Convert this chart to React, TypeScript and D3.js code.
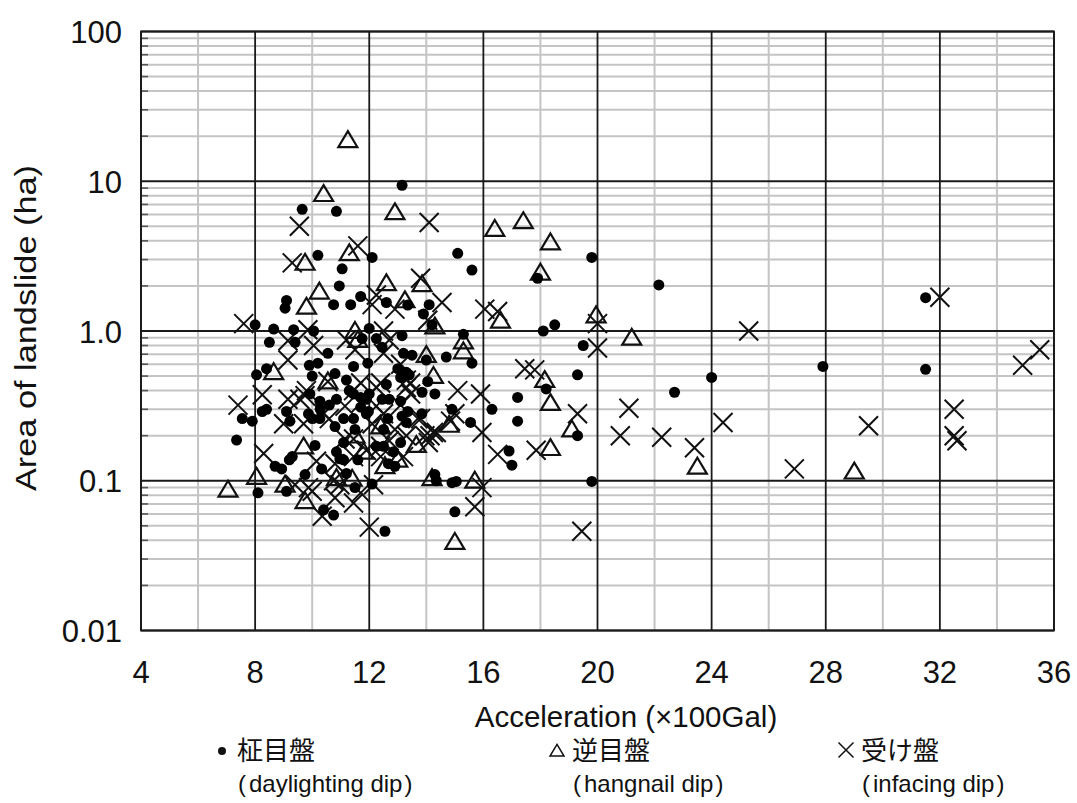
import React from "react";
import * as d3 from "d3";

// Landslide area versus seismic acceleration, grouped by slope structure.
const xTicks = [4, 8, 12, 16, 20, 24, 28, 32, 36];
const xMinor = [6, 10, 14, 18, 22, 26, 30, 34];
const yTicks = [0.01, 0.1, 1, 10, 100];
const yTickLabels = ["0.01", "0.1", "1.0", "10", "100"];

// 柾目盤 (daylighting dip): [acceleration ×100Gal, area ha]
const daylighting: [number, number][] = [
  [31.5, 1.67], [24.0, 0.49], [27.9, 0.58], [31.5, 0.555], [22.7, 0.39], [22.15, 2.03],
  [19.8, 3.1], [19.8, 0.099], [19.5, 0.8], [19.3, 0.51], [19.3, 0.2], [18.5, 1.1],
  [18.1, 1.0], [17.9, 2.25], [15.1, 3.3], [15.6, 2.55], [14.1, 1.5], [13.9, 1.3],
  [14.2, 1.1], [15.3, 0.95], [14.7, 0.67], [15.6, 0.61], [14.0, 0.64], [18.2, 0.41],
  [17.2, 0.36], [17.2, 0.25], [16.3, 0.3], [14.9, 0.3], [15.55, 0.245], [16.9, 0.158],
  [17.0, 0.127], [13.84, 0.28], [14.3, 0.11], [14.35, 0.1], [14.9, 0.097], [15.05, 0.099],
  [15.0, 0.062],
  [13.15, 9.4], [9.65, 6.5], [10.85, 6.3], [12.1, 3.1], [10.2, 3.2], [11.05, 2.6],
  [10.95, 2.0], [11.7, 1.7], [9.1, 1.6], [9.05, 1.42], [10.75, 1.5], [11.35, 1.5],
  [12.6, 1.55], [13.35, 1.49],
  [8.0, 1.1], [8.65, 1.03], [9.35, 1.02], [10.05, 1.0], [8.5, 0.84], [9.4, 0.84],
  [12.0, 1.04], [11.75, 0.89], [12.25, 0.89], [13.15, 0.93], [12.45, 0.78], [13.2, 0.71],
  [13.5, 0.69], [10.55, 0.71], [9.9, 0.59], [10.2, 0.61], [8.4, 0.56], [8.05, 0.51],
  [10.0, 0.5], [10.8, 0.52], [11.95, 0.61], [13.0, 0.56], [13.3, 0.53], [13.4, 0.51],
  [11.2, 0.47], [12.6, 0.44], [13.1, 0.49], [14.05, 0.46], [14.3, 0.38],
  [7.55, 0.26], [7.9, 0.25], [7.35, 0.187], [8.25, 0.29], [8.4, 0.3], [9.1, 0.29],
  [9.22, 0.25], [8.7, 0.125], [8.93, 0.12], [9.2, 0.138], [9.3, 0.145], [8.1, 0.083],
  [9.1, 0.085], [10.4, 0.064], [10.75, 0.059], [9.75, 0.11], [10.1, 0.172], [9.87, 0.28],
  [10.0, 0.26], [10.27, 0.26], [10.28, 0.3], [10.8, 0.23], [10.85, 0.156], [10.97, 0.14],
  [10.33, 0.12], [9.92, 0.38], [10.27, 0.34], [10.6, 0.32], [11.2, 0.112], [11.5, 0.09],
  [12.1, 0.095], [12.55, 0.046], [11.1, 0.138], [11.6, 0.138], [12.67, 0.13], [12.9, 0.125],
  [13.1, 0.18], [12.5, 0.17], [12.25, 0.17], [11.1, 0.26], [11.5, 0.22], [13.3, 0.245],
  [11.9, 0.28], [12.65, 0.26], [13.15, 0.27], [13.35, 0.29], [11.45, 0.38], [12.0, 0.38],
  [13.1, 0.34], [12.45, 0.35], [13.85, 0.39], [11.45, 0.26], [11.97, 0.29], [11.3, 0.4],
  [11.7, 0.36], [11.9, 0.35],
  [12.7, 0.35], [12.85, 0.156], [11.1, 0.18], [11.45, 0.58], [10.85, 0.35], [11.7, 0.31],
  [12.5, 0.22],
];

// 逆目盤 (hangnail dip)
const hangnail: [number, number][] = [
  [29.0, 0.115], [23.5, 0.124], [21.2, 0.9], [19.95, 1.27], [19.1, 0.22], [18.35, 3.9],
  [18.0, 2.45], [17.4, 5.4], [16.4, 4.8], [16.6, 1.17], [14.3, 1.07], [15.3, 0.85],
  [15.3, 0.73], [14.0, 0.69], [18.15, 0.47], [18.35, 0.33], [18.35, 0.165], [14.8, 0.236],
  [14.2, 0.104], [15.7, 0.1], [15.0, 0.039],
  [11.25, 18.8], [10.4, 8.2], [12.9, 6.2], [11.3, 3.3], [9.75, 2.85], [10.25, 1.83],
  [9.8, 1.45], [12.6, 2.08], [13.25, 1.6], [13.85, 2.05],
  [8.65, 0.53], [11.5, 1.0], [11.6, 0.87], [14.25, 0.5], [8.05, 0.106], [7.05, 0.087],
  [9.05, 0.094], [9.75, 0.073], [9.7, 0.169], [13.65, 0.173], [11.8, 0.156], [13.0, 0.138],
  [11.5, 0.2], [12.4, 0.23], [10.85, 0.104], [11.4, 0.103], [12.55, 0.125], [10.55, 0.46],
];

// 受け盤 (infacing dip)
const infacing: [number, number][] = [
  [32.0, 1.68], [25.3, 1.0], [35.5, 0.75], [34.9, 0.59], [32.5, 0.3], [32.5, 0.2],
  [32.6, 0.185], [29.5, 0.233], [24.4, 0.245], [26.9, 0.12], [23.4, 0.166], [22.25, 0.195],
  [20.8, 0.2], [21.1, 0.305], [20.0, 0.77], [20.0, 1.12], [19.45, 0.046], [19.3, 0.28],
  [14.1, 5.3], [16.05, 1.4], [16.5, 1.35], [14.55, 1.55], [17.45, 0.56], [17.8, 0.55],
  [17.85, 0.16], [15.9, 0.38], [15.1, 0.4], [15.95, 0.21], [16.5, 0.15], [15.0, 0.28],
  [14.25, 0.21], [13.95, 0.2], [15.95, 0.09], [15.7, 0.067],
  [9.55, 5.0], [11.6, 3.7], [9.3, 2.85], [12.25, 1.74], [12.1, 1.5], [12.9, 1.4],
  [13.8, 2.25], [14.05, 1.18], [7.6, 1.12], [9.85, 1.02], [9.15, 0.86], [10.05, 0.8],
  [9.15, 0.64], [10.55, 0.46],
  [11.2, 0.87], [12.5, 1.0], [12.7, 0.87], [11.5, 0.75], [12.5, 0.71], [13.1, 0.6],
  [13.3, 0.47], [11.7, 0.45], [13.45, 0.45],
  [7.4, 0.32], [8.25, 0.375], [9.15, 0.35], [9.0, 0.24], [8.3, 0.152], [9.4, 0.094],
  [9.87, 0.09], [10.35, 0.058], [10.8, 0.077], [10.0, 0.085], [9.7, 0.24], [10.6, 0.26],
  [9.8, 0.4], [10.8, 0.13], [10.15, 0.135], [10.75, 0.1], [9.57, 0.35],
  [14.85, 0.25], [14.13, 0.2], [14.07, 0.18], [14.35, 0.21], [11.45, 0.071], [11.7, 0.083],
  [12.15, 0.094], [12.0, 0.049], [12.4, 0.145], [13.2, 0.145], [12.7, 0.185], [11.15, 0.19],
  [12.9, 0.22], [13.3, 0.2], [12.25, 0.315], [12.5, 0.28], [13.7, 0.26], [11.7, 0.33],
  [11.15, 0.315], [13.45, 0.38], [13.8, 0.26], [13.1, 0.32], [10.97, 0.094], [9.75, 0.37],
  [11.45, 0.4], [12.25, 0.42], [13.3, 0.42], [12.1, 0.24], [12.4, 0.17], [11.45, 0.145],
  [10.4, 0.28], [11.45, 0.19], [12.4, 0.45], [11.9, 0.16],
];

const legendItems = [
  { symbol: "dot", ja: "柾目盤", en: "daylighting dip" },
  { symbol: "tri", ja: "逆目盤", en: "hangnail dip" },
  { symbol: "cross", ja: "受け盤", en: "infacing dip" },
];

const W = 1077;
const H = 803;
const left = 141;
const right = 1054;
const top = 31.5;
const bottom = 630.5;

const LATIN = "'Liberation Sans', Arial, sans-serif";
const CJK = "'Noto Sans CJK JP', 'Noto Sans CJK SC', sans-serif";

export default function App() {
  const x = d3.scaleLinear().domain([4, 36]).range([left, right]);
  const y = d3.scaleLog().domain([0.01, 100]).range([bottom, top]);

  const yMinor: number[] = [];
  [0.01, 0.1, 1, 10].forEach((base) => {
    for (let k = 2; k <= 9; k++) yMinor.push(base * k);
  });

  const triPath = (cx: number, cy: number, s = 9.5) =>
    `M${cx},${cy - s * 0.95} L${cx + s},${cy + s * 0.72} L${cx - s},${cy + s * 0.72} Z`;
  const crossPath = (cx: number, cy: number, s = 9.5) =>
    `M${cx - s},${cy - s} L${cx + s},${cy + s} M${cx - s},${cy + s} L${cx + s},${cy - s}`;

  const legendX = [222, 557, 846];

  return (
    <svg width={W} height={H} style={{ position: "absolute", left: 0, top: 0, background: "#fff" }}>
      <rect x={0} y={0} width={W} height={H} fill="#fff" />
      {/* minor grid */}
      {xMinor.map((v) => (
        <line key={`xm${v}`} x1={x(v)} x2={x(v)} y1={top} y2={bottom} stroke="#c4c4c4" strokeWidth={2} />
      ))}
      {yMinor.map((v) => (
        <line key={`ym${v}`} x1={left} x2={right} y1={y(v)} y2={y(v)} stroke="#c4c4c4" strokeWidth={2} />
      ))}
      {yMinor.map((v) => (
        <line key={`yt${v}`} x1={left} x2={left + 7} y1={y(v)} y2={y(v)} stroke="#555" strokeWidth={1.6} />
      ))}
      {/* major grid */}
      {xTicks.map((v) => (
        <line key={`xM${v}`} x1={x(v)} x2={x(v)} y1={top} y2={bottom} stroke="#1a1a1a" strokeWidth={1.8} />
      ))}
      {yTicks.map((v) => (
        <line key={`yM${v}`} x1={left} x2={right} y1={y(v)} y2={y(v)} stroke="#1a1a1a" strokeWidth={1.8} />
      ))}
      <rect x={left} y={top} width={right - left} height={bottom - top} fill="none" stroke="#1a1a1a" strokeWidth={1.8} />

      {/* tick labels */}
      {xTicks.map((v) => (
        <text key={`xl${v}`} x={x(v)} y={683} textAnchor="middle" fontFamily={LATIN} fontSize={31} fill="#111">
          {v}
        </text>
      ))}
      {yTicks.map((v, i) => (
        <text key={`yl${v}`} x={122} y={y(v) + 11.5} textAnchor="end" fontFamily={LATIN} fontSize={31} fill="#111">
          {yTickLabels[i]}
        </text>
      ))}

      {/* axis titles */}
      <text x={626} y={727} textAnchor="middle" fontFamily={LATIN} fontSize={29.5} fill="#111">
        Acceleration (×100Gal)
      </text>
      <text
        transform={`translate(36, ${(top + bottom) / 2 - 3}) rotate(-90)`}
        textAnchor="middle"
        fontFamily={LATIN}
        fontSize={30}
        textLength={326}
        lengthAdjust="spacingAndGlyphs"
        fill="#111"
      >
        Area of landslide (ha)
      </text>

      {/* points */}
      <g>
        {infacing.map(([a, b], i) => (
          <path key={`c${i}`} d={crossPath(x(a), y(b))} stroke="#111" strokeWidth={2} fill="none" />
        ))}
        {hangnail.map(([a, b], i) => (
          <path key={`t${i}`} d={triPath(x(a), y(b))} stroke="#111" strokeWidth={2.2} fill="none" />
        ))}
        {daylighting.map(([a, b], i) => (
          <circle key={`d${i}`} cx={x(a)} cy={y(b)} r={5.5} fill="#000" />
        ))}
      </g>

      {/* legend */}
      {legendItems.map((it, i) => {
        const lx = legendX[i];
        return (
          <g key={it.en}>
            {it.symbol === "dot" && <circle cx={lx} cy={751} r={4} fill="#111" />}
            {it.symbol === "tri" && <path d={triPath(lx, 751, 7)} stroke="#111" strokeWidth={1.5} fill="none" />}
            {it.symbol === "cross" && <path d={crossPath(lx, 750, 7.5)} stroke="#111" strokeWidth={1.5} fill="none" />}
            <text x={lx + 16} y={792} fontFamily={LATIN} fontSize={24} fill="#111">
              (<tspan dx={3}>{it.en}</tspan>
              <tspan dx={2}>)</tspan>
            </text>
            <text x={lx + 15} y={760} fontFamily={CJK} fontSize={26} fill="#111">
              {it.ja}
            </text>
          </g>
        );
      })}
    </svg>
  );
}
